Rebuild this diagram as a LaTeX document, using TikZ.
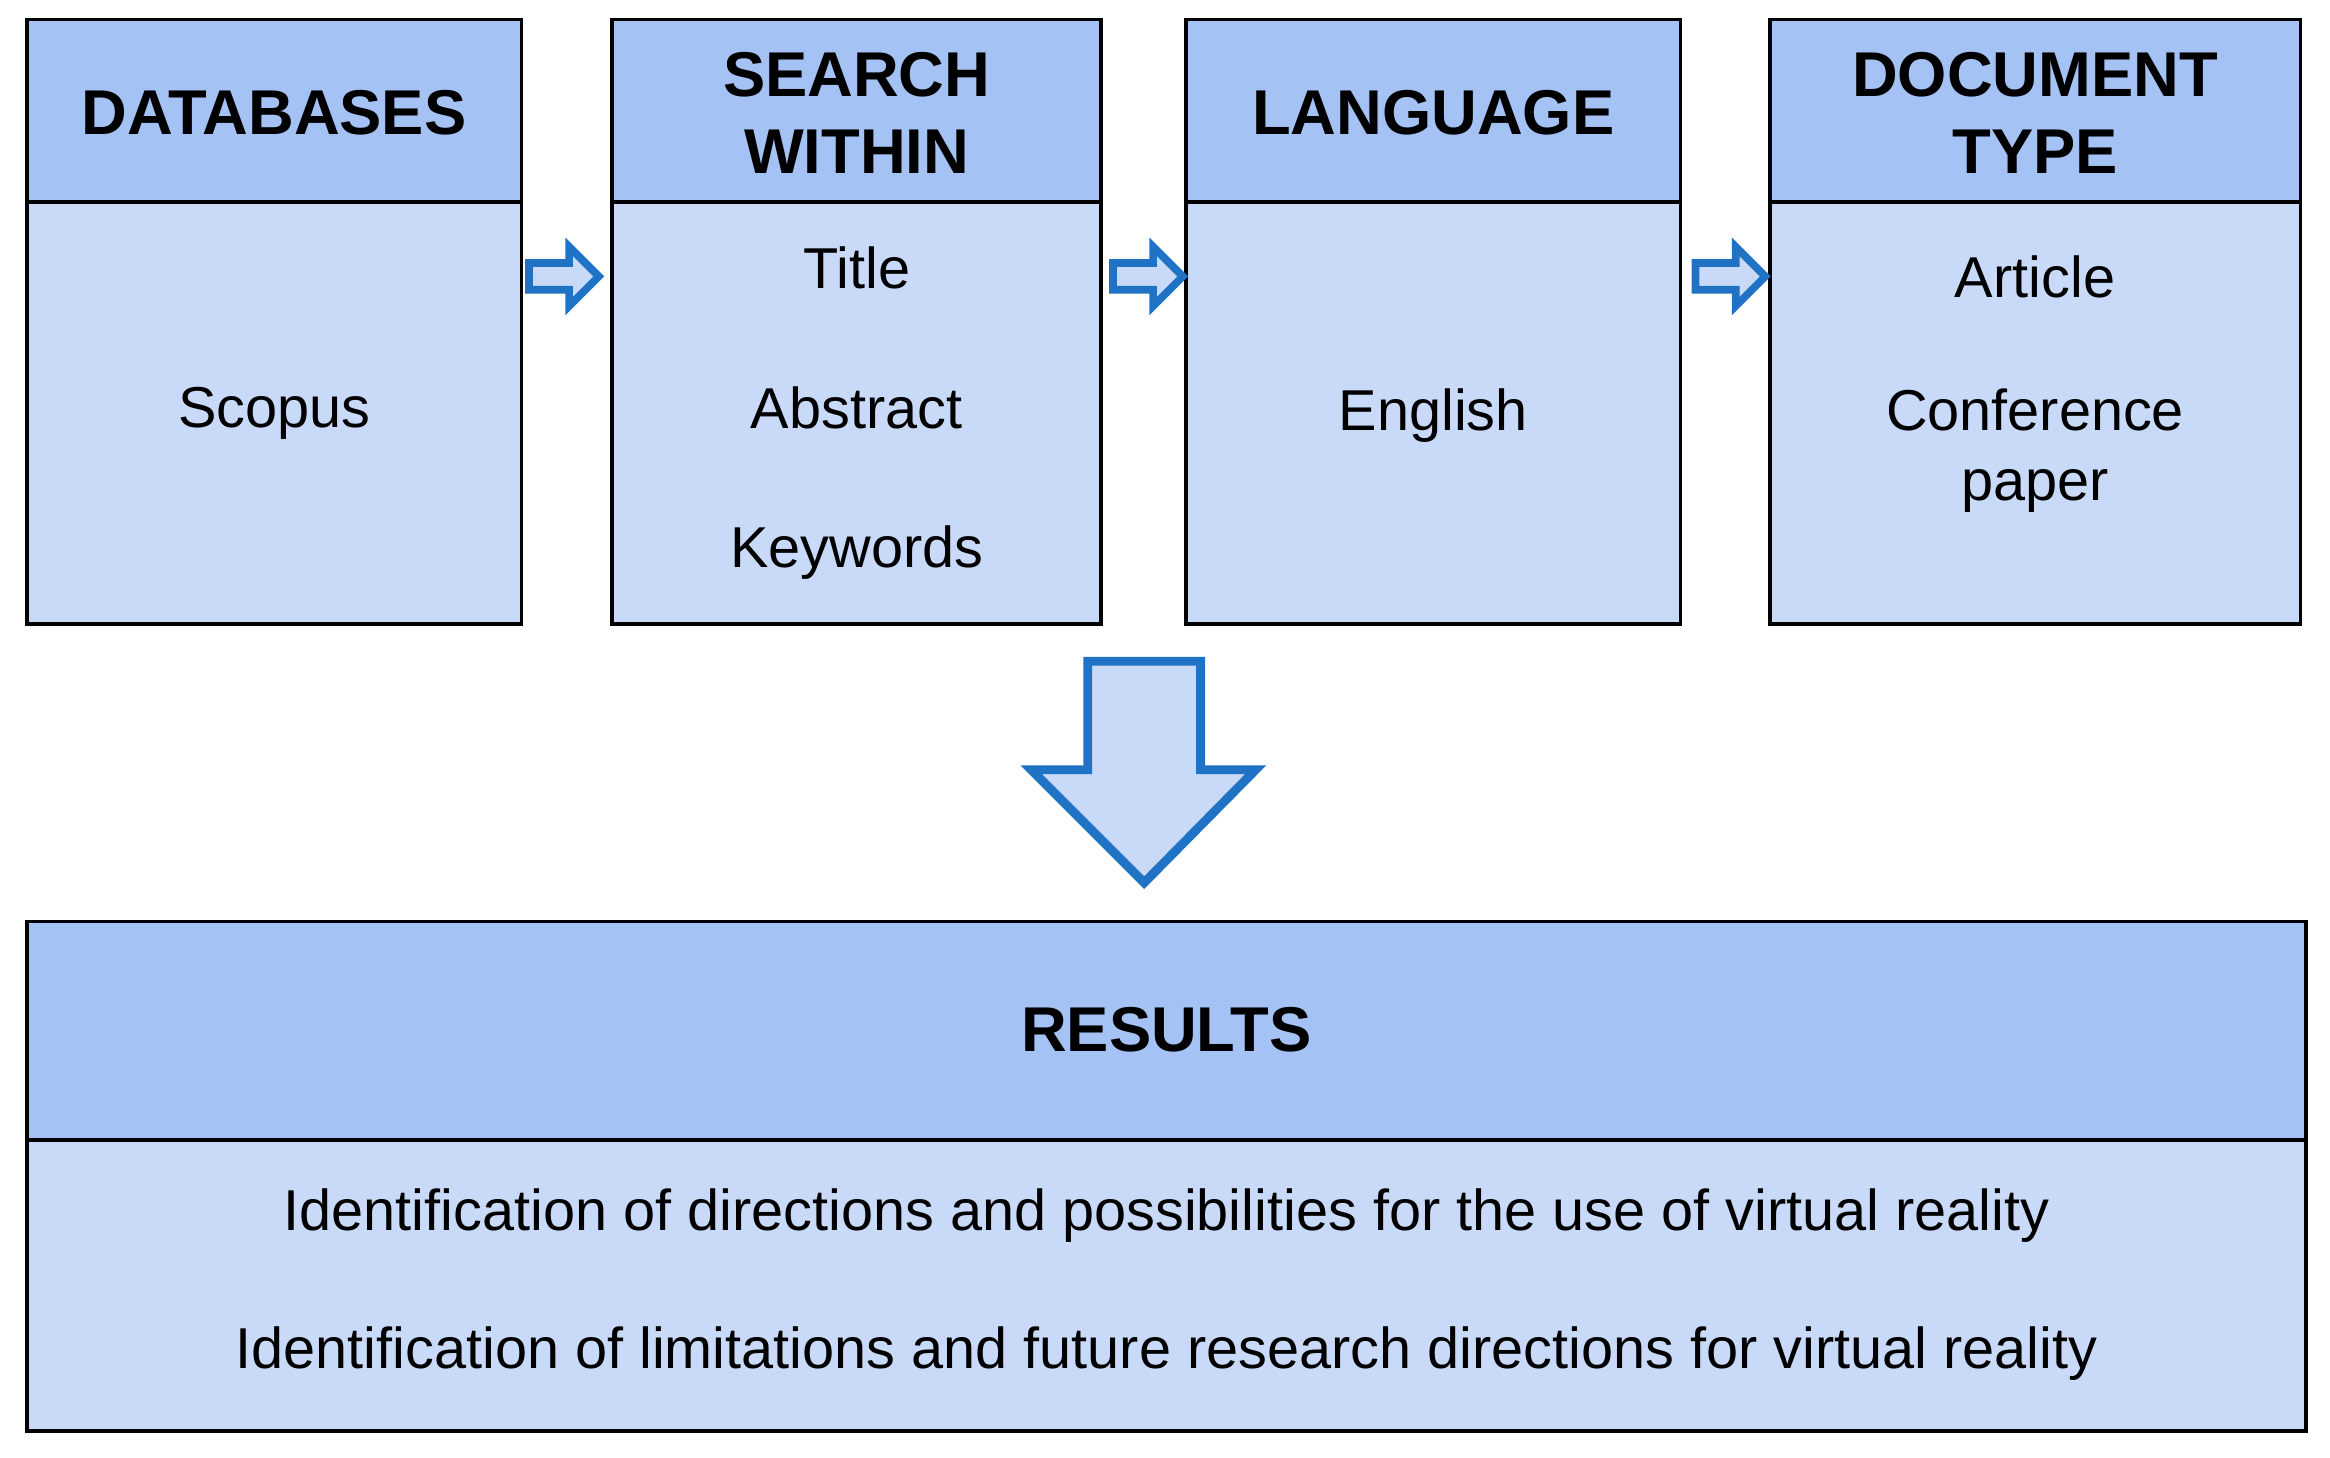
\documentclass[tikz,border=0pt]{standalone}
\usepackage{fontspec}
\setmainfont{Liberation Sans}
\begin{document}
\begin{tikzpicture}[x=0.5pt,y=-0.5pt,
  hd/.style={draw=black,line width=1.2pt,fill=hdc},
  bd/.style={draw=black,line width=1.2pt,fill=bdc},
  ht/.style={font=\fontsize{21.3}{26}\selectfont\bfseries,align=center},
  bt/.style={font=\fontsize{19.4}{23.5}\selectfont,align=center},
  sarr/.style={draw=arc,line width=2.6pt,fill=bdc,line join=miter}]
\definecolor{hdc}{HTML}{A4C2F4}
\definecolor{bdc}{HTML}{C9DAF8}
\definecolor{arc}{HTML}{1F72C4}
\useasboundingbox (0,0) rectangle (1568,981);
\foreach \n/\a/\b/\h in {a/18/351/DATABASES,b/412/741/{SEARCH\\WITHIN},c/798/1131/LANGUAGE,d/1191/1548/{DOCUMENT\\TYPE}}{
  \path[hd] (\a,13) rectangle (\b,136);
  \node[ht] (h\n) at ({(\a+\b)/2},76) {\h};
  \path[bd] (\a,136) rectangle (\b,420);
}
\node[bt] (ta) at (184.5,278) {Scopus};
\node[bt] (tb) at (576.5,278) {Title\\[23.5pt]Abstract\\[23.5pt]Keywords};
\node[bt] (tc) at (964.5,280) {English};
\node[bt] (td1) at (1369.5,186) {Article};
\node[bt] (td2) at (1369.5,303) {Conference\\paper};
\foreach \x in {356,749,1141}{
  \draw[sarr] (\x,177)--(\x+27,177)--(\x+27,166)--(\x+47,186)--(\x+27,206)--(\x+27,195)--(\x,195)--cycle;
}
\draw[arc,line width=3pt,fill=bdc,line join=miter] (732,445)--(808,445)--(808,518)--(845,518)--(770,594)--(694,518)--(732,518)--cycle;
\path[hd] (18,620) rectangle (1552,767);
\node[ht] (res) at (785,693) {RESULTS};
\path[bd] (18,767) rectangle (1552,963);
\node[bt] (r1) at (785,818) {Identification of directions and possibilities for the use of virtual reality};
\node[bt] (r2) at (785,911) {Identification of limitations and future research directions for virtual reality};
\end{tikzpicture}
\end{document}
